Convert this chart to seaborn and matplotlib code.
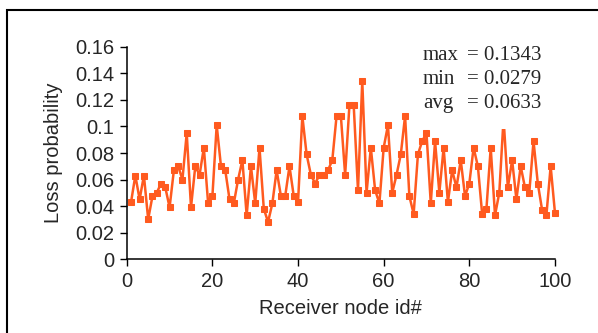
import numpy as np
import pandas as pd
import matplotlib
matplotlib.use("Agg")
import matplotlib.pyplot as plt
import seaborn as sns
from matplotlib.patches import Rectangle

# data (receiver node 1..100)
node_ids = list(range(1, 101))
loss_prob = [
    0.043, 0.063, 0.045, 0.063, 0.030, 0.0475, 0.050, 0.057, 0.054, 0.039,
    0.067, 0.070, 0.060, 0.095, 0.039, 0.070, 0.0635, 0.084, 0.042, 0.0475,
    0.101, 0.070, 0.067, 0.045, 0.042, 0.060, 0.0746, 0.033, 0.070, 0.042,
    0.084, 0.038, 0.0279, 0.042, 0.067, 0.0475, 0.0475, 0.070, 0.0475, 0.043,
    0.108, 0.079, 0.0635, 0.057, 0.0635, 0.0635, 0.067, 0.0746, 0.108, 0.108,
    0.0635, 0.116, 0.116, 0.052, 0.1343, 0.050, 0.084, 0.052, 0.042, 0.084,
    0.101, 0.050, 0.0635, 0.079, 0.108, 0.0475, 0.034, 0.079, 0.089, 0.095,
    0.042, 0.089, 0.050, 0.084, 0.043, 0.067, 0.054, 0.0746, 0.0475, 0.057,
    0.084, 0.070, 0.034, 0.038, 0.084, 0.033, 0.050, 0.106, 0.054, 0.0746,
    0.045, 0.070, 0.054, 0.050, 0.089, 0.057, 0.037, 0.033, 0.070, 0.035,
]
stat_names = ["max", "min", "avg"]
stat_values = ["= 0.1343", "= 0.0279", "= 0.0633"]

df = pd.DataFrame({"node": node_ids, "loss": loss_prob})

sns.set_style("white")
plt.rcParams["font.family"] = ["Liberation Sans", "DejaVu Sans"]

fig = plt.figure(figsize=(5.98, 3.33), dpi=100)
ax = fig.add_axes([0.212, 0.222, 0.716, 0.637])

sns.lineplot(data=df, x="node", y="loss", ax=ax, color="#FF5A1F",
             linewidth=1.8, marker="s", markersize=5,
             markeredgecolor="#FF5A1F", zorder=2, clip_on=False)

ax.set_xlim(0, 100)
ax.set_ylim(0, 0.16)
ax.set_xticks(range(0, 101, 20))
ax.set_yticks(np.arange(0, 0.161, 0.02))
ax.set_yticklabels(["0", "0.02", "0.04", "0.06", "0.08", "0.1", "0.12", "0.14", "0.16"])
ax.tick_params(axis="both", labelsize=14.5, direction="out", length=5,
               width=1, color="black", left=True, bottom=True, pad=4)
ax.set_xlabel("Receiver node id#", fontsize=14.5, labelpad=6)
ax.set_ylabel("Loss probability", fontsize=14.5, labelpad=9)
sns.despine(ax=ax)
for s in ["left", "bottom"]:
    ax.spines[s].set_color("black")
    ax.spines[s].set_linewidth(1.1)

# stats box (white background hides the line beneath it)
ax.add_patch(Rectangle((0.69, 0.615), 0.32, 0.4, transform=ax.transAxes,
                       facecolor="white", edgecolor="none", zorder=4))
for k, (nm, val) in enumerate(zip(stat_names, stat_values)):
    yy = 0.958 - k * 0.112
    ax.text(0.692, yy, nm, transform=ax.transAxes, fontsize=15,
            family="Liberation Serif", va="center", ha="left", zorder=5)
    ax.text(0.795, yy, val, transform=ax.transAxes, fontsize=15,
            family="Liberation Serif", va="center", ha="left", zorder=5)

# outer frame (only left and top edges visible in the reference)
fig.add_artist(Rectangle((7 / 598, -0.5), 2, 0.5 + 1 - 10 / 333,
                         transform=fig.transFigure, fill=False,
                         edgecolor="black", linewidth=1.5, clip_on=False))

fig.savefig("out.png", dpi=100)
